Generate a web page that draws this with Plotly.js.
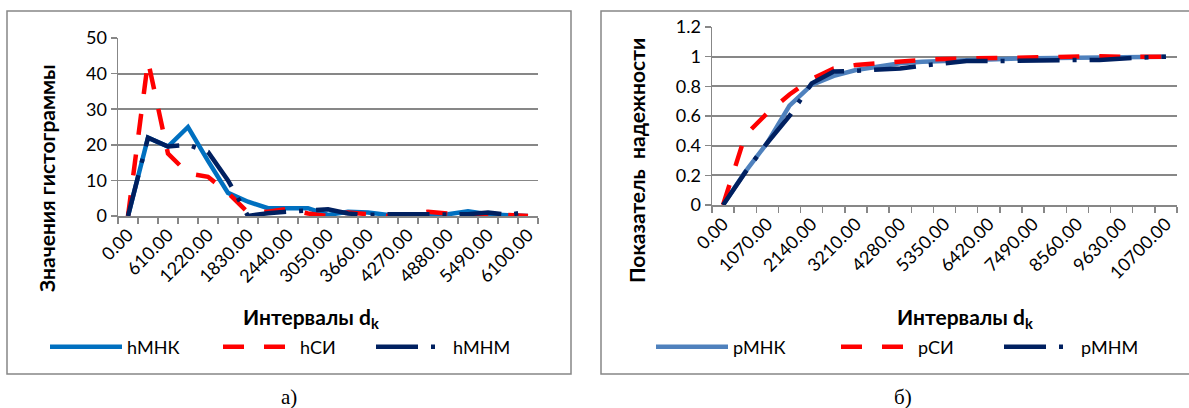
<!DOCTYPE html>
<html><head><meta charset="utf-8">
<script src="https://cdn.plot.ly/plotly-3.0.1.min.js"></script>
<style>html,body{margin:0;padding:0;background:#fff}#chart{width:1189px;height:408px}</style>
</head><body><div id="chart"></div>
<script>
// ---- chart а) histogram values ----
const catsA = ["0.00","305.00","610.00","915.00","1220.00","1525.00","1830.00","2135.00","2440.00","2745.00","3050.00",
               "3355.00","3660.00","3965.00","4270.00","4575.00","4880.00","5185.00","5490.00","5795.00","6100.00"];
const hMNK = [0,22,19.5,25,15.5,6.5,4,2.2,2.2,2.2,0.3,1.2,1,0.3,0.2,0.3,0.5,1.3,0.5,0.2,0];
const hSI  = [0,43.5,17.5,12,11,6.5,1,1.2,2,0.7,0,1,0.5,0,0,1.2,0.7,0.3,0,0.3,0];
const hMNM = [0,22,19.5,20,18,10,0,0.8,1.2,1.7,1.9,0.7,0.3,0.5,0.6,0.5,0.4,0.5,1,0.3,1.2];

// ---- chart б) reliability values ----
const catsB = ["0.00","535.00","1070.00","1605.00","2140.00","2675.00","3210.00","3745.00","4280.00","4815.00","5350.00",
               "5885.00","6420.00","6955.00","7490.00","8025.00","8560.00","9095.00","9630.00","10165.00","10700.00"];
const pMNK = [0,0.224,0.42,0.67,0.81,0.87,0.91,0.93,0.955,0.965,0.972,0.978,0.983,0.986,0.989,0.991,0.993,0.995,0.997,0.998,1.0];
const pSI  = [0,0.47,0.62,0.745,0.85,0.92,0.944,0.955,0.973,0.978,0.985,0.988,0.99,0.993,0.996,1.0,1.005,1.003,1.0,1.0,1.0];
const pMNM = [0,0.22,0.42,0.60,0.82,0.90,0.905,0.91,0.92,0.94,0.957,0.97,0.97,0.973,0.978,0.978,0.978,0.978,0.99,0.995,1.0];

const namesA = ["hМНК","hСИ","hМНМ"];
const namesB = ["pМНК","pСИ","pМНМ"];
const yTitleA = "Значения гистограммы";
const yTitleB = "Показатель\u00A0 надежности";
const xTitle = "Интервалы d<sub>k</sub>";

const W = 1189, H = 408;
const FONT = "Lato, 'Open Sans', 'Liberation Sans', sans-serif";
const GRID = "#878787";
const px = v => v / W, py = v => 1 - v / H;

const blueA = "#0070C0", blueB = "#4F81BD", red = "#FF0000", navy = "#002060";
const dashRed = "21px,20px", dashNavy = "42px,13px,4px,13px";

const traces = [
  {x: catsA, y: hMNK, name: namesA[0], xaxis:'x', yaxis:'y', legend:'legend',  line:{color:blueA, width:4.5}},
  {x: catsA, y: hSI,  name: namesA[1], xaxis:'x', yaxis:'y', legend:'legend2', line:{color:red, width:4.5, dash:dashRed}},
  {x: catsA, y: hMNM, name: namesA[2], xaxis:'x', yaxis:'y', legend:'legend3', line:{color:navy, width:4.5, dash:dashNavy}},
  {x: catsB, y: pMNK, name: namesB[0], xaxis:'x2', yaxis:'y2', legend:'legend4', line:{color:blueB, width:4.5}},
  {x: catsB, y: pSI,  name: namesB[1], xaxis:'x2', yaxis:'y2', legend:'legend5', line:{color:red, width:4.5, dash:dashRed}},
  {x: catsB, y: pMNM, name: namesB[2], xaxis:'x2', yaxis:'y2', legend:'legend6', line:{color:navy, width:4.5, dash:dashNavy}}
].map(t => Object.assign({type:'scatter', mode:'lines', hoverinfo:'skip', showlegend:true}, t));

function xAxis(cats, dom, anchor) {
  return {
    type:'category', domain:dom, anchor:anchor, range:[-0.5, cats.length - 0.5], autorange:false,
    tickvals: cats, ticktext: cats.map((c,i) => i % 2 === 0 ? c : ''),
    tickson:'boundaries', ticks:'outside', ticklen:6, tickwidth:1.5, tickcolor:GRID,
    tickangle:-45, showgrid:false, showline:true, linecolor:GRID, linewidth:1.5,
    tickfont:{family:FONT, size:18, color:'#000'}, zeroline:false, fixedrange:true
  };
}
function yAxis(range, dtick, dom, anchor) {
  return {
    range:range, dtick:dtick, domain:dom, anchor:anchor,
    ticks:'outside', ticklen:6, tickwidth:1.5, tickcolor:GRID,
    showgrid:true, gridcolor:GRID, gridwidth:1.8,
    showline:true, linecolor:GRID, linewidth:1.5, zeroline:false,
    tickfont:{family:FONT, size:18, color:'#000'}, fixedrange:true
  };
}

function leg(xStart) {
  return {x: px(xStart - 5), y: py(347), xanchor:'left', yanchor:'middle', orientation:'v',
          bgcolor:'rgba(0,0,0,0)', borderwidth:0, itemwidth:72,
          font:{family:FONT, size:18, color:'#000'}, tracegroupgap:0};
}

const ann = (text, x, y, opts) => Object.assign({text, x:px(x), y:py(y), xref:'paper', yref:'paper',
  showarrow:false, xanchor:'center', yanchor:'middle'}, opts);
const titleFont = {family:FONT, size:21, color:'#000', weight:'bold'};

const layout = {
  width:W, height:H, margin:{l:0,r:0,t:0,b:0}, paper_bgcolor:'#fff', plot_bgcolor:'#fff',
  showlegend:true,
  xaxis:  xAxis(catsA, [px(118), px(538)], 'y'),
  yaxis:  yAxis([0,50], 10, [py(216), py(38)], 'x'),
  xaxis2: xAxis(catsB, [px(712), px(1177)], 'y2'),
  yaxis2: yAxis([0,1.2], 0.2, [py(205), py(27)], 'x2'),
  legend: leg(50), legend2: leg(223), legend3: leg(376),
  legend4: leg(656), legend5: leg(841), legend6: leg(1004),
  shapes: [
    {type:'rect', xref:'paper', yref:'paper', x0:px(7), x1:px(571), y0:py(374), y1:py(11), line:{color:GRID, width:1.5}},
    {type:'rect', xref:'paper', yref:'paper', x0:px(601), x1:px(1200), y0:py(374), y1:py(11), line:{color:GRID, width:1.5}}
  ],
  annotations: [
    ann(yTitleA, 46, 178, {textangle:-90, font:titleFont}),
    ann(yTitleB, 637, 161, {textangle:-90, font:titleFont}),
    ann(xTitle, 311, 318, {font:Object.assign({}, titleFont, {size:21})}),
    ann(xTitle, 965, 318, {font:Object.assign({}, titleFont, {size:21})}),
    ann("а)", 289, 397, {font:{family:"'Liberation Serif', 'DejaVu Serif', serif", size:21, color:'#000'}}),
    ann("б)", 903, 397, {font:{family:"'Liberation Serif', 'DejaVu Serif', serif", size:21, color:'#000'}})
  ]
};

Plotly.newPlot('chart', traces, layout, {staticPlot:true, displayModeBar:false});
</script></body></html>
